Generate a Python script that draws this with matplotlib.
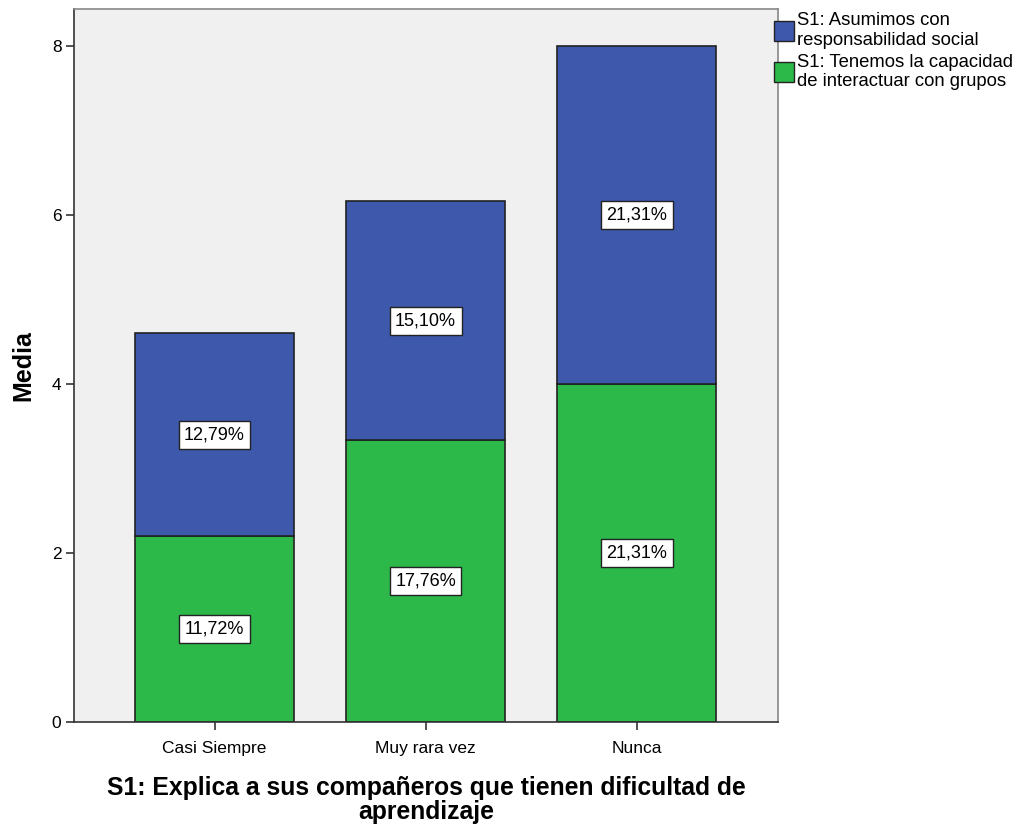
import matplotlib.pyplot as plt
from matplotlib.patches import Patch

plt.rcParams['font.family'] = ['Liberation Sans', 'DejaVu Sans']

categorias = ['Casi Siempre', 'Muy rara vez', 'Nunca']
verde = [2.2, 3.333, 4.0]      # S1: Tenemos la capacidad de interactuar con grupos
azul = [2.4, 2.833, 4.0]       # S1: Asumimos con responsabilidad social
pct_verde = ['11,72%', '17,76%', '21,31%']
pct_azul = ['12,79%', '15,10%', '21,31%']

c_azul = '#3E58AC'
c_verde = '#2DB84A'

fig = plt.figure(figsize=(10.19, 8.25), dpi=100)
ax = fig.add_axes([0.0726, 0.125, 0.691, 0.864])
ax.set_facecolor('#F0F0F0')

x = range(len(categorias))
ax.bar(x, verde, width=0.754, color=c_verde, edgecolor='#222222', lw=1.2)
ax.bar(x, azul, bottom=verde, width=0.754, color=c_azul, edgecolor='#222222', lw=1.2)

box = dict(boxstyle='square,pad=0.3', fc='white', ec='#222222', lw=1)
for i in x:
    ax.text(i, verde[i] / 2, pct_verde[i], ha='center', va='center', fontsize=13, bbox=box)
    ax.text(i, verde[i] + azul[i] / 2, pct_azul[i], ha='center', va='center', fontsize=13, bbox=box)

ax.set_xlim(-0.666, 2.67)
ax.set_ylim(0, 8.44)
ax.set_yticks([0, 2, 4, 6, 8])
ax.set_xticks(list(x))
ax.set_xticklabels(categorias)
ax.tick_params(labelsize=12.5, color='#333333', length=6, width=1.2)
ax.tick_params(axis='x', pad=8)
ax.tick_params(axis='y', pad=3)
for s in ['left', 'bottom']:
    ax.spines[s].set_color('#333333')
    ax.spines[s].set_linewidth(1.2)
for s in ['top', 'right']:
    ax.spines[s].set_color('#888888')
    ax.spines[s].set_linewidth(1.2)

ax.set_ylabel('Media', fontsize=18, fontweight='bold', labelpad=12)
ax.set_xlabel('S1: Explica a sus compañeros que tienen dificultad de\naprendizaje',
              fontsize=17.8, fontweight='bold', labelpad=14, linespacing=1.0)

handles = [Patch(fc=c_azul, ec='#222222'), Patch(fc=c_verde, ec='#222222')]
labels = ['S1: Asumimos con\nresponsabilidad social',
          'S1: Tenemos la capacidad\nde interactuar con grupos']
fig.legend(handles, labels, loc='upper left', bbox_to_anchor=(0.76, 0.985),
           frameon=False, fontsize=13.3, handlelength=1.05, handleheight=1.25,
           handletextpad=0.15, labelspacing=0.25, borderaxespad=0, borderpad=0)

fig.savefig('out.png', dpi=100)
